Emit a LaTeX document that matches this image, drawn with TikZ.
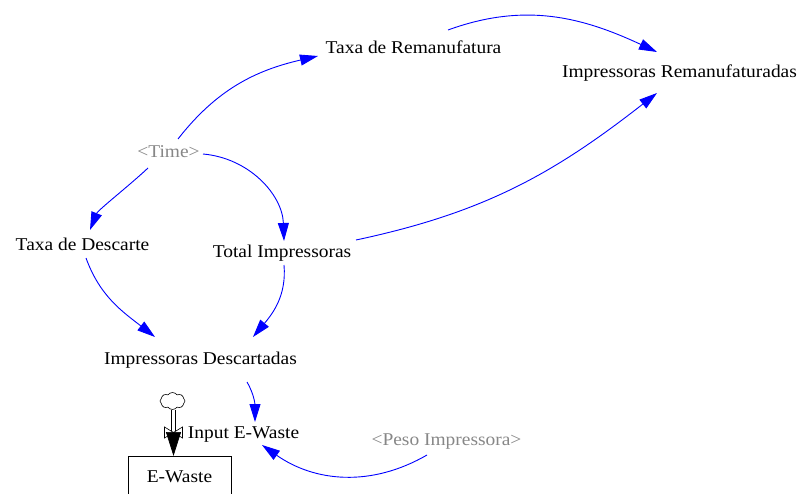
\documentclass[tikz,border=0pt]{standalone}
\usepackage{fontspec}
\setmainfont{Liberation Serif}[FakeStretch=1.08]
\usetikzlibrary{arrows.meta,shapes.symbols,calc}
\definecolor{linkblue}{RGB}{0,0,255}
\definecolor{shadowgray}{RGB}{135,135,135}

\begin{document}
\begin{tikzpicture}[x=1pt,y=1pt,
  var/.style={inner sep=0pt, anchor=base, font=\fontsize{18}{20}\selectfont},
  shadowvar/.style={var, text=shadowgray},
  link/.style={draw=linkblue, line width=0.9pt, -{Triangle[length=18pt,width=11pt]}},
]
\useasboundingbox (0,0) rectangle (800,-494);

% variables
\node[var] (tr)    at (413.5,-54)  {Taxa de Remanufatura};
\node[var] (ir)    at (679.5,-78)  {Impressoras Remanufaturadas};
\node[shadowvar] (time) at (168.5,-158) {<Time>};
\node[var] (td)    at (82.5,-251)  {Taxa de Descarte};
\node[var] (tot)   at (282,-258)   {Total Impressoras};
\node[var] (id)    at (200.5,-364) {Impressoras Descartadas};
\node[var] (inp)   at (243.5,-438) {Input E-Waste};
\node[shadowvar] (peso) at (446.5,-445) {<Peso Impressora>};

% stock
\node[draw, line width=0.8pt, anchor=north, minimum width=103pt,
      inner xsep=0pt, inner ysep=13pt, text height=13pt, text depth=40pt,
      font=\fontsize{18}{20}\selectfont] (ew) at (179.5,-456) {E-Waste};

% source cloud, pipe and valve
\node[cloud, draw, cloud puffs=8, cloud puff arc=110, aspect=1.4,
      minimum width=25pt, minimum height=17pt, inner sep=0pt, line width=0.6pt] (src) at (172.5,-401) {};
\coordinate (valve) at (173.5,-432.5);
\coordinate (pipeend) at (ew.north -| valve);
\draw[double distance=3.6pt, line width=0.7pt] (src.south -| valve) -- ($(pipeend)+(0,20)$);
\draw[fill=white, line width=0.6pt] ($(valve)+(-9,5.5)$) -- ($(valve)+(9,-5.5)$) -- ($(valve)+(9,5.5)$) -- ($(valve)+(-9,-5.5)$) -- cycle;
\draw[line width=0.7pt, -{Triangle[length=24pt,width=15pt]}] ($(pipeend)+(0,22)$) -- (pipeend);

% causal links
\draw[link] ($(time.base)+(9.5,19)$)   to[out=52,in=193]  ($(tr.base)+(-95.5,-2)$);
\draw[link] ($(time.base)+(-20.5,-10)$) .. controls +(-18,-17) and +(8,20) .. ($(td.base)+(7.5,21)$);
\draw[link] ($(time.base)+(34.5,4)$)   to[out=-5,in=92]   ($(tot.base)+(2,17)$);
\draw[link] ($(tr.base)+(34.5,24)$)    to[out=20,in=155]  ($(ir.base)+(-22.5,26)$);
\draw[link] ($(tot.base)+(74,18)$)     to[out=12,in=218]  ($(ir.base)+(-22.5,-15)$);
\draw[link] ($(td.base)+(3.5,-7)$)     to[out=-70,in=142] ($(id.base)+(-45.5,27)$);
\draw[link] ($(tot.base)+(2,-7)$)      to[out=-85,in=50]  ($(id.base)+(52.5,27)$);
\draw[link] ($(id.base)+(46.5,-18)$)   to[out=-60,in=90]  ($(inp.base)+(11.5,16)$);
\draw[link] ($(peso.base)+(-19.5,-10)$) to[out=-150,in=-35] ($(inp.base)+(18.5,-7)$);
\end{tikzpicture}
\end{document}
